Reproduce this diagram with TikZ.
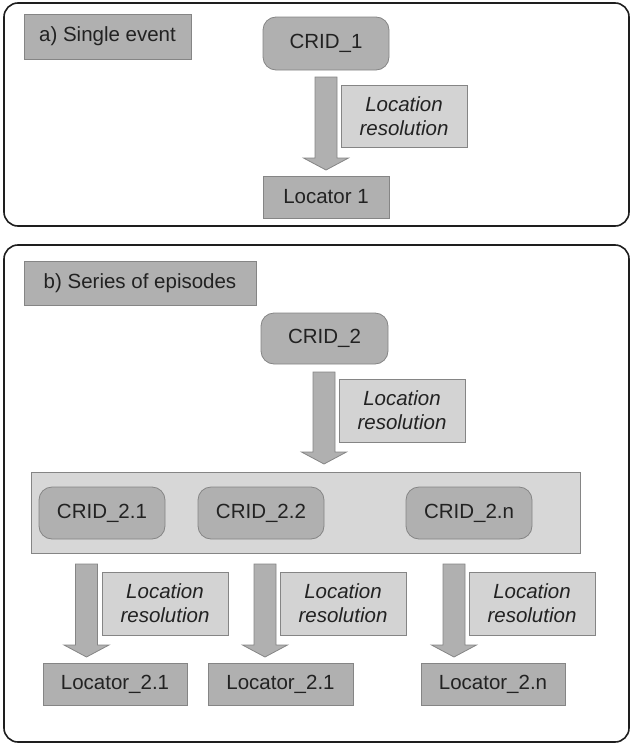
\documentclass[tikz,border=0pt]{standalone}
\usepackage{fontspec}
\setmainfont{Liberation Sans}
\usetikzlibrary{calc}
\definecolor{dk}{HTML}{B0B0B0}
\definecolor{lt}{HTML}{D3D3D3}
\definecolor{ct}{HTML}{D7D7D7}
\definecolor{bd}{HTML}{858585}
\definecolor{ol}{HTML}{1E1E1E}
\definecolor{tx}{HTML}{222222}
\tikzset{
  txt/.style={font=\fontsize{20.5}{24}\selectfont, inner sep=0pt, text=tx},
  outerbox/.style={draw=ol, line width=1.6pt, rounded corners=14pt, inner sep=0pt},
  dkbox/.style={txt, draw=bd, line width=0.8pt, fill=dk},
  crid/.style={dkbox, rounded corners=13pt},
  lrbox/.style={txt, draw=bd, line width=0.8pt, fill=lt, align=center, font=\fontsize{20.5}{24}\selectfont\itshape},
  container/.style={draw=bd, line width=0.8pt, fill=ct, inner sep=0pt},
  arr/.style={draw=bd, line width=0.8pt, fill=dk}
}
\newcommand\blkarrow[2]{%
  \draw[arr] let \p1=(#1), \p2=(#2) in
    (\x1-11pt,\y1) -- (\x1+11pt,\y1) -- (\x1+11pt,\y2+12pt) -- (\x1+22.5pt,\y2+12pt)
    -- (\x1,\y2) -- (\x1-22.5pt,\y2+12pt) -- (\x1-11pt,\y2+12pt) -- cycle;}
\begin{document}
\begin{tikzpicture}[x=1pt,y=-1pt]
\useasboundingbox (0,0) rectangle (630,744);
% outer panels
\node[outerbox, minimum width=625, minimum height=223] (pa) at (316.5,114.5) {};
\node[outerbox, minimum width=625, minimum height=497] (pb) at (316.5,493.5) {};
% panel a
\node[dkbox, minimum width=167, minimum height=45] (la) at (107.5,36.5) {a) Single event};
\node[crid, minimum width=126, minimum height=53] (crid1) at (326,43.5) {CRID\_1};
\node[lrbox, minimum width=126, minimum height=62] (lr1) at (404,116) {Location\\resolution};
\node[dkbox, minimum width=126, minimum height=42] (loc1) at (326,197) {Locator 1};
\coordinate (a1s) at (326,77);
\coordinate (a1e) at (326,170);
\blkarrow{a1s}{a1e}
% panel b
\node[dkbox, minimum width=232, minimum height=44] (lb) at (140,283) {b) Series of episodes};
\node[crid, minimum width=127, minimum height=51] (crid2) at (324.5,338.5) {CRID\_2};
\node[lrbox, minimum width=126, minimum height=63] (lr2) at (402,410.5) {Location\\resolution};
\coordinate (a2s) at (324,372);
\coordinate (a2e) at (324,464);
\blkarrow{a2s}{a2e}
\node[container, minimum width=549, minimum height=81] (cont) at (305.5,512.5) {};
\node[crid, minimum width=126, minimum height=52] (c21) at (102,513) {CRID\_2.1};
\node[crid, minimum width=126, minimum height=52] (c22) at (261,513) {CRID\_2.2};
\node[crid, minimum width=126, minimum height=52] (c2n) at (469,513) {CRID\_2.n};
\node[lrbox, minimum width=126, minimum height=63] (lr21) at (165,603.5) {Location\\resolution};
\node[lrbox, minimum width=126, minimum height=63] (lr22) at (343,603.5) {Location\\resolution};
\node[lrbox, minimum width=126, minimum height=63] (lr2n) at (532,603.5) {Location\\resolution};
\coordinate (b1s) at (86.5,564);
\coordinate (b1e) at (86.5,657);
\coordinate (b2s) at (265,564);
\coordinate (b2e) at (265,657);
\coordinate (b3s) at (454,564);
\coordinate (b3e) at (454,657);
\blkarrow{b1s}{b1e}
\blkarrow{b2s}{b2e}
\blkarrow{b3s}{b3e}
\node[dkbox, minimum width=144, minimum height=42] (l21) at (115,684) {Locator\_2.1};
\node[dkbox, minimum width=145, minimum height=42] (l22) at (280.5,684) {Locator\_2.1};
\node[dkbox, minimum width=144, minimum height=42] (l2n) at (493,684) {Locator\_2.n};
\end{tikzpicture}
\end{document}
